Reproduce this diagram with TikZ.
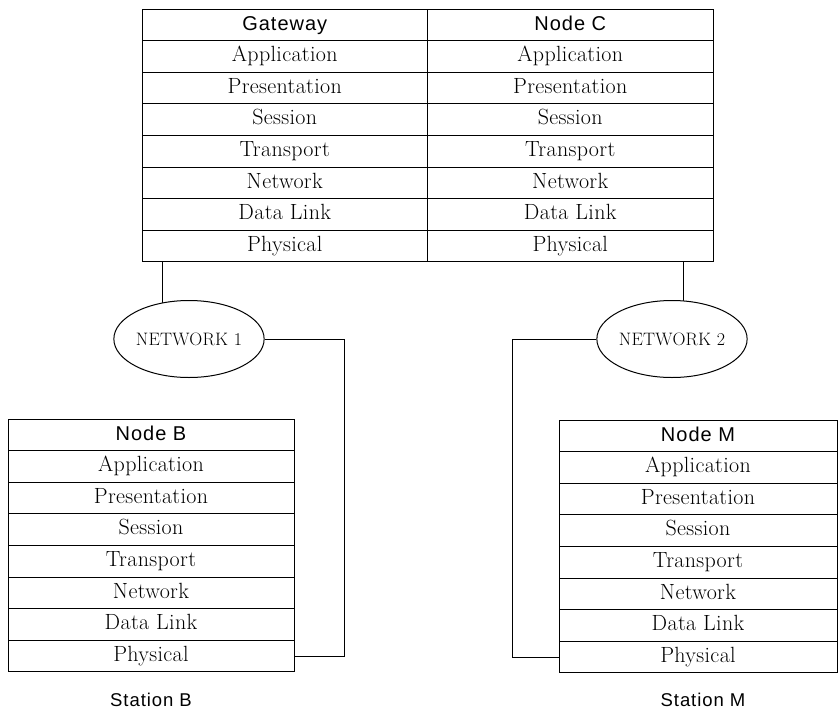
\documentclass[tikz,border=0pt]{standalone}
\usepackage{fontspec}
\setmainfont{Latin Modern Roman}[LetterSpace=1.5]
\newfontfamily\labelsans{Liberation Sans}[LetterSpace=5]
\usetikzlibrary{shapes.geometric}
\pgfdeclarelayer{background}
\pgfsetlayers{background,main}
\tikzset{
  cell/.style={draw, line width=1pt, rectangle, inner sep=0pt, minimum height=31.6pt,
    text height=15pt, text depth=4.5pt, font=\fontsize{22}{26}\selectfont},
  headcell/.style={cell, font=\labelsans\fontsize{20}{24}\selectfont},
  netell/.style={draw, line width=1pt, ellipse, fill=white, inner sep=0pt,
    minimum width=138pt, minimum height=77pt, font=\fontsize{18}{22}\selectfont},
  conn/.style={line width=1pt},
  station/.style={font=\labelsans\fontsize{18.5}{22}\selectfont}
}
\begin{document}
\begin{tikzpicture}[x=1pt,y=-1pt]
\useasboundingbox (0,0) rectangle (838,715);
% top table
\node[headcell, minimum width=285.5pt] (g0) at (284.75,24.8) {Gateway};
\node[headcell, minimum width=285.5pt] (c0) at (570.25,24.8) {Node C};
\foreach \t [count=\i from 1] in {Application,Presentation,Session,Transport,Network,{Data Link},Physical} {
  \node[cell, minimum width=285.5pt] (g\i) at (284.75,{24.8+31.6*\i}) {\t};
  \node[cell, minimum width=285.5pt] (c\i) at (570.25,{24.8+31.6*\i}) {\t};
}
% station B
\node[headcell, minimum width=286pt] (b0) at (151,434.8) {Node B};
\foreach \t [count=\i from 1] in {Application,Presentation,Session,Transport,Network,{Data Link},Physical} {
  \node[cell, minimum width=286pt] (b\i) at (151,{434.8+31.6*\i}) {\t};
}
% station M
\node[headcell, minimum width=278pt] (m0) at (698,435.8) {Node M};
\foreach \t [count=\i from 1] in {Application,Presentation,Session,Transport,Network,{Data Link},Physical} {
  \node[cell, minimum width=278pt] (m\i) at (698,{435.8+31.6*\i}) {\t};
}
% networks
\node[netell] (n1) at (189,339) {NETWORK 1};
\node[netell, minimum width=142pt] (n2) at (672,339) {NETWORK 2};
% station labels
\node[station] (sb) at (151,700) {Station B};
\node[station] (sm) at (703,700) {Station M};
% connectors
\coordinate (k1) at (344,0);
\coordinate (k2) at (512,0);
\begin{pgfonlayer}{background}
\draw[conn] ([xshift=21pt]g7.south west) coordinate (a1) -- (a1 |- n1.center);
\draw[conn] ([xshift=-30pt]c7.south east) coordinate (a2) -- (a2 |- n2.center);
\draw[conn] (n1.east) -| (k1 |- b7.east) -- (b7.east);
\draw[conn] (n2.west) -| (k2 |- m7.west) -- (m7.west);
\end{pgfonlayer}
\end{tikzpicture}
\end{document}
